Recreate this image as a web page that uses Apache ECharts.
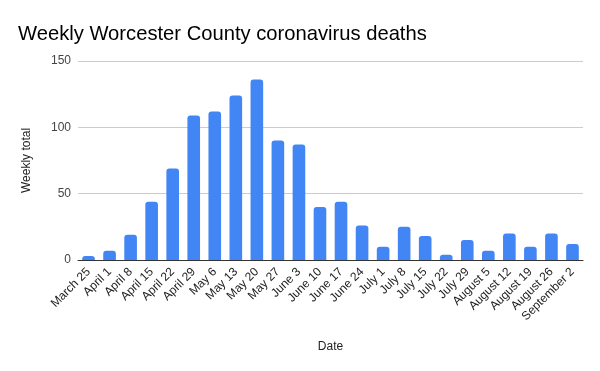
<!DOCTYPE html>
<html><head><meta charset="utf-8">
<script src="https://cdn.jsdelivr.net/npm/echarts@6/dist/echarts.min.js"></script>
<style>html,body{margin:0;padding:0;background:#fff}#c{width:600px;height:371px}</style>
</head><body><div id="c"></div>
<script>
const categories = ["March 25","April 1","April 8","April 15","April 22","April 29","May 6","May 13","May 20","May 27","June 3","June 10","June 17","June 24","July 1","July 8","July 15","July 22","July 29","August 5","August 12","August 19","August 26","September 2"];
const weeklyDeaths = [3,7,19,44,69,109,112,124,136,90,87,40,44,26,10,25,18,4,15,7,20,10,20,12];
const yTicks = [0,50,100,150];
const chart = echarts.init(document.getElementById('c'), null, {renderer:'canvas'});
const font = 'Arial, "Liberation Sans", sans-serif';
chart.setOption({
  animation:false,
  title:{text:'Weekly Worcester County coronavirus deaths',left:13,top:19,textStyle:{fontFamily:font,fontSize:20.2,fontWeight:'normal',color:'#000'}},
  grid:{left:78,right:17,top:61,bottom:111},
  xAxis:{type:'category',data:categories,name:'Date',nameLocation:'middle',nameGap:81,
    nameTextStyle:{fontFamily:font,fontSize:12,color:'#222'},
    axisLine:{lineStyle:{color:'#333',width:1}},axisTick:{show:false},
    axisLabel:{interval:0,rotate:45,fontFamily:font,fontSize:12,color:'#222',margin:10}},
  yAxis:{type:'value',min:yTicks[0],max:yTicks[yTicks.length-1],interval:50,name:'Weekly total',nameLocation:'middle',nameGap:45,
    nameTextStyle:{fontFamily:font,fontSize:12,color:'#222'},
    axisLine:{show:false},axisTick:{show:false},
    axisLabel:{fontFamily:font,fontSize:12,color:'#444',margin:7},
    splitLine:{lineStyle:{color:'#ccc'}}},
  series:[{type:'bar',data:weeklyDeaths,barCategoryGap:'40%',itemStyle:{color:'#4285F4',borderRadius:[3,3,0,0]}}]
});
</script></body></html>
